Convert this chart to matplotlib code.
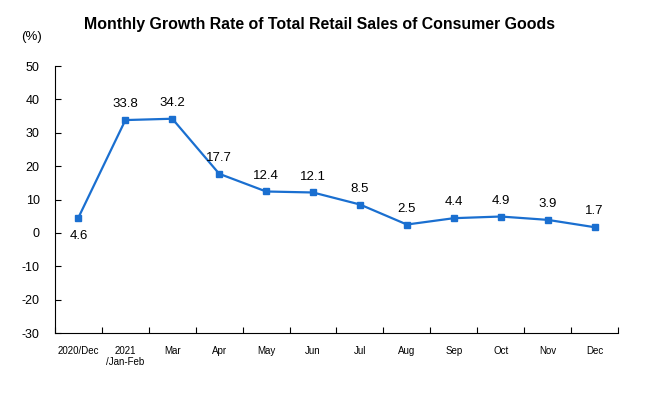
import matplotlib
matplotlib.use("Agg")
import matplotlib.pyplot as plt

months = ["2020/Dec", "2021\n/Jan-Feb", "Mar", "Apr", "May", "Jun",
          "Jul", "Aug", "Sep", "Oct", "Nov", "Dec"]
growth = [4.6, 33.8, 34.2, 17.7, 12.4, 12.1, 8.5, 2.5, 4.4, 4.9, 3.9, 1.7]
yticks = [-30, -20, -10, 0, 10, 20, 30, 40, 50]

plt.rcParams['font.family'] = ['Liberation Sans', 'DejaVu Sans']
plt.rcParams['axes.unicode_minus'] = False

fig = plt.figure(figsize=(6.48, 3.96), dpi=100)
ax = fig.add_axes([55 / 648, 1 - 333 / 396, 563 / 648, 267 / 396])

x = list(range(len(months)))
ax.plot(x, growth, color="#1a6fd0", lw=1.6, marker="s", ms=4)

for i, v in enumerate(growth):
    if i == 0:
        ax.annotate(f"{v}", (i, v), xytext=(0, -9), textcoords="offset points",
                    ha="center", va="top", fontsize=9.5)
    else:
        ax.annotate(f"{v}", (i, v), xytext=(0, 7), textcoords="offset points",
                    ha="center", va="bottom", fontsize=9.5)

ax.set_xlim(-0.5, len(months) - 0.5)
ax.set_ylim(-30, 50)
ax.set_yticks(yticks)
ax.set_xticks([i - 0.5 for i in range(len(months) + 1)])
ax.set_xticklabels([])
ax.set_xticks(x, minor=True)
ax.set_xticklabels(months, minor=True, fontsize=7, va="top")
ax.tick_params(axis="x", which="minor", length=0, pad=9)
ax.tick_params(axis="x", which="major", direction="in", length=4)
ax.tick_params(axis="y", direction="in", length=4, labelsize=9, pad=11)
for s in ["top", "right"]:
    ax.spines[s].set_visible(False)

fig.text(320 / 648, 1 - 24 / 396, "Monthly Growth Rate of Total Retail Sales of Consumer Goods",
         ha="center", va="center", fontsize=11.4, fontweight="bold")
fig.text(32 / 648, 1 - 37 / 396, "(%)", ha="center", va="center", fontsize=9.5)

fig.savefig("out.png", dpi=100)
